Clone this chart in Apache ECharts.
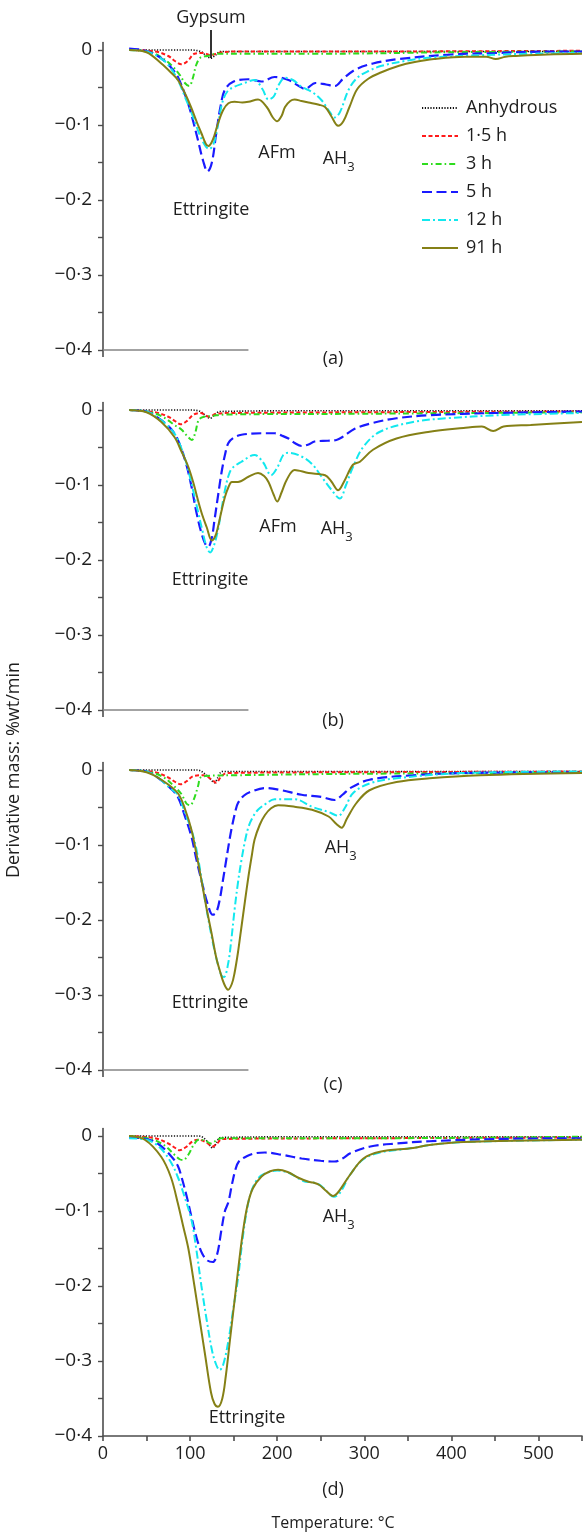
<!DOCTYPE html>
<html>
<head>
<meta charset="utf-8">
<script src="https://cdn.jsdelivr.net/npm/echarts@6/dist/echarts.min.js"></script>
<style>
html,body{margin:0;padding:0;background:#fff;}
#main{width:587px;height:1533px;}
</style>
</head>
<body>
<div id="main"></div>
<script>
// ---- series names ----
const SERIES_NAMES = ['Anhydrous', '1·5 h', '3 h', '5 h', '12 h', '91 h'];
const PANEL_LETTERS = ['(a)', '(b)', '(c)', '(d)'];

// ---- axis ticks / labels ----
const TEMP_TICKS = [0, 50, 100, 150, 200, 250, 300, 350, 400, 450, 500, 550];
const TEMP_LABELS = [0, 100, 200, 300, 400, 500];
const DERIV_TICKS = [-0.4, -0.35, -0.3, -0.25, -0.2, -0.15, -0.1, -0.05, 0];
const DERIV_LABELS = [-0.4, -0.3, -0.2, -0.1, 0];

// ---- panel (a) ----
const A_ANH = [[30,0],[100,0],[112,-0.002],[119,-0.008],[124,-0.011],[129,-0.007],[135,-0.002],[250,-0.002],[400,-0.002],[550,-0.002]];
const A_H1_5 = [[30,0],[60,-0.002],[75,-0.008],[83,-0.015],[90,-0.019],[97,-0.015],[105,-0.005],[115,-0.004],[124,-0.007],[132,-0.004],[150,-0.002],[300,-0.002],[550,-0.001]];
const A_H3 = [[30,0],[55,-0.003],[70,-0.012],[80,-0.022],[88,-0.033],[94,-0.044],[99,-0.048],[103,-0.038],[107,-0.02],[112,-0.01],[120,-0.008],[130,-0.005],[250,-0.005],[400,-0.003],[550,-0.002]];
const A_H5 = [[30,0.002],[45,0],[60,-0.006],[72,-0.016],[80,-0.026],[86,-0.036],[95,-0.062],[101,-0.084],[109,-0.12],[115,-0.148],[120,-0.162],[125,-0.15],[130,-0.111],[135,-0.075],[140,-0.053],[150,-0.042],[167,-0.039],[182,-0.042],[197,-0.036],[213,-0.04],[225,-0.048],[232,-0.052],[244,-0.044],[256,-0.046],[266,-0.048],[276,-0.038],[290,-0.026],[310,-0.018],[340,-0.012],[400,-0.006],[450,-0.004],[513,-0.002],[550,-0.002]];
const A_H12 = [[30,0],[50,-0.002],[65,-0.01],[75,-0.02],[86,-0.04],[95,-0.065],[102,-0.085],[110,-0.11],[117,-0.127],[122,-0.132],[127,-0.125],[132,-0.1],[137,-0.07],[143,-0.055],[151,-0.049],[160,-0.045],[174,-0.04],[183,-0.052],[190,-0.066],[196,-0.062],[202,-0.046],[209,-0.037],[218,-0.04],[228,-0.049],[240,-0.056],[251,-0.067],[260,-0.082],[266,-0.09],[272,-0.083],[282,-0.053],[292,-0.037],[305,-0.028],[320,-0.021],[350,-0.014],[377,-0.01],[455,-0.006],[550,-0.004]];
const A_H91 = [[30,0],[50,-0.003],[67,-0.018],[78,-0.03],[86,-0.04],[95,-0.06],[101,-0.076],[108,-0.097],[113,-0.111],[118,-0.125],[121,-0.128],[126,-0.12],[132,-0.098],[138,-0.08],[144,-0.071],[151,-0.069],[160,-0.07],[167,-0.069],[178,-0.066],[188,-0.076],[195,-0.09],[200,-0.095],[205,-0.088],[209,-0.076],[215,-0.068],[220,-0.066],[228,-0.068],[236,-0.07],[248,-0.073],[255,-0.076],[262,-0.088],[270,-0.101],[276,-0.095],[283,-0.076],[292,-0.052],[305,-0.038],[319,-0.03],[340,-0.021],[358,-0.016],[380,-0.012],[416,-0.009],[440,-0.009],[451,-0.012],[462,-0.009],[474,-0.008],[510,-0.006],[550,-0.005]];

// ---- panel (b) ----
const B_ANH = [[30,0],[100,0],[112,-0.002],[118,-0.008],[123,-0.011],[128,-0.007],[134,-0.002],[250,-0.001],[550,-0.001]];
const B_H1_5 = [[30,0],[60,-0.003],[75,-0.009],[83,-0.015],[89,-0.019],[96,-0.015],[104,-0.006],[112,-0.004],[122,-0.009],[130,-0.005],[150,-0.004],[300,-0.003],[550,-0.002]];
const B_H3 = [[30,0],[55,-0.003],[70,-0.01],[82,-0.02],[90,-0.026],[97,-0.035],[102,-0.04],[106,-0.03],[110,-0.013],[116,-0.009],[125,-0.008],[140,-0.006],[300,-0.005],[550,-0.003]];
const B_H5 = [[30,0],[50,-0.002],[65,-0.012],[78,-0.025],[86,-0.04],[95,-0.07],[101.6,-0.102],[107,-0.135],[113,-0.164],[118,-0.18],[121,-0.182],[125,-0.17],[128,-0.147],[132,-0.115],[136,-0.084],[140,-0.06],[144,-0.044],[150,-0.037],[159,-0.033],[182,-0.031],[197,-0.031],[205,-0.034],[213,-0.038],[220,-0.044],[228,-0.048],[236,-0.046],[243,-0.042],[258,-0.041],[268,-0.04],[275,-0.036],[289,-0.025],[307,-0.018],[337,-0.011],[375,-0.007],[450,-0.004],[550,-0.002]];
const B_H12 = [[30,0],[50,-0.002],[65,-0.012],[78,-0.025],[86,-0.04],[95,-0.068],[102,-0.1],[108,-0.13],[114,-0.16],[119,-0.183],[123,-0.19],[127,-0.182],[132,-0.16],[136,-0.133],[140,-0.107],[144,-0.088],[148,-0.078],[159,-0.069],[174,-0.06],[184,-0.07],[193,-0.087],[200,-0.077],[207,-0.06],[213,-0.057],[228,-0.062],[240,-0.072],[251,-0.089],[262,-0.106],[272,-0.118],[279,-0.1],[287,-0.076],[299,-0.049],[318,-0.029],[356,-0.016],[395,-0.011],[453,-0.007],[550,-0.004]];
const B_H91 = [[30,0],[50,-0.003],[67,-0.016],[82,-0.036],[90,-0.055],[98,-0.076],[104,-0.098],[109,-0.12],[114,-0.14],[119,-0.156],[125,-0.174],[129,-0.168],[132,-0.156],[136,-0.135],[140,-0.116],[144,-0.103],[148,-0.096],[155,-0.096],[167,-0.089],[178,-0.084],[185,-0.088],[190,-0.096],[196,-0.113],[200,-0.122],[205,-0.11],[211,-0.093],[220,-0.08],[236,-0.084],[255,-0.087],[262,-0.095],[270,-0.107],[277,-0.095],[287,-0.073],[295,-0.069],[310,-0.053],[337,-0.038],[375,-0.029],[414,-0.024],[435,-0.022],[448,-0.028],[460,-0.022],[491,-0.02],[550,-0.016]];

// ---- panel (c) ----
const C_ANH = [[30,0],[108,0],[118,-0.006],[124,-0.013],[128,-0.017],[132,-0.01],[137,-0.002],[250,-0.002],[550,-0.002]];
const C_H1_5 = [[30,0],[60,-0.003],[75,-0.01],[83,-0.016],[89,-0.019],[96,-0.015],[104,-0.008],[115,-0.007],[124,-0.012],[130,-0.017],[135,-0.01],[142,-0.004],[300,-0.003],[550,-0.002]];
const C_H3 = [[30,0],[55,-0.003],[70,-0.01],[82,-0.022],[90,-0.032],[96,-0.045],[100,-0.047],[104,-0.04],[109,-0.022],[112,-0.01],[118,-0.008],[150,-0.007],[300,-0.005],[550,-0.004]];
const C_H5 = [[30,0],[50,-0.002],[65,-0.012],[78,-0.025],[86,-0.036],[95,-0.065],[101.6,-0.089],[107,-0.118],[113,-0.147],[120,-0.178],[126,-0.193],[130,-0.19],[134,-0.173],[138,-0.145],[141.5,-0.12],[145,-0.095],[148,-0.076],[152,-0.055],[155,-0.044],[162,-0.034],[170,-0.029],[186,-0.024],[205,-0.027],[228,-0.033],[251,-0.036],[266,-0.04],[275,-0.033],[284,-0.024],[306,-0.013],[356,-0.007],[415,-0.004],[550,-0.003]];
const C_H12 = [[30,0],[50,-0.002],[65,-0.012],[78,-0.025],[86,-0.033],[95,-0.06],[101.6,-0.08],[108,-0.11],[117,-0.173],[124.7,-0.222],[131,-0.255],[136,-0.274],[139,-0.276],[143.7,-0.258],[147,-0.23],[151,-0.187],[155,-0.15],[159,-0.12],[163,-0.095],[167,-0.076],[172,-0.063],[178,-0.053],[187,-0.045],[197,-0.039],[220,-0.039],[240,-0.049],[259,-0.056],[270,-0.061],[278,-0.05],[287,-0.031],[306,-0.018],[337,-0.011],[414,-0.004],[550,-0.002]];
const C_H91 = [[30,0],[50,-0.003],[67,-0.013],[86,-0.031],[95,-0.055],[101.6,-0.08],[107,-0.11],[113,-0.147],[119,-0.185],[124.7,-0.218],[130,-0.25],[134,-0.267],[139,-0.285],[143.7,-0.293],[148,-0.285],[151,-0.271],[155,-0.243],[159,-0.209],[163,-0.175],[167,-0.142],[171,-0.113],[174,-0.093],[180,-0.073],[186,-0.06],[193,-0.051],[201,-0.047],[220,-0.049],[240,-0.053],[259,-0.062],[268,-0.072],[274,-0.077],[280,-0.065],[291,-0.044],[306,-0.027],[337,-0.016],[375,-0.011],[433,-0.007],[550,-0.004]];

// ---- panel (d) ----
const D_ANH = [[30,0],[110,0],[118,-0.005],[126,-0.016],[130,-0.01],[135,-0.002],[250,-0.001],[550,-0.001]];
const D_H1_5 = [[30,0],[60,-0.003],[75,-0.01],[83,-0.016],[88,-0.019],[95,-0.015],[103,-0.007],[109,-0.005],[118,-0.008],[126,-0.014],[131,-0.01],[137,-0.004],[300,-0.003],[550,-0.002]];
const D_H3 = [[30,0],[55,-0.004],[70,-0.012],[82,-0.025],[88,-0.031],[92,-0.032],[98,-0.025],[104,-0.012],[110,-0.005],[117,-0.006],[124,-0.01],[130,-0.006],[136,-0.003],[300,-0.003],[550,-0.001]];
const D_H5 = [[30,-0.002],[50,-0.004],[65,-0.012],[79,-0.028],[86,-0.04],[90,-0.054],[96,-0.08],[101.6,-0.108],[108,-0.138],[114,-0.157],[120,-0.166],[126,-0.168],[131,-0.158],[136,-0.125],[140,-0.1],[144,-0.088],[148,-0.065],[152,-0.045],[156,-0.034],[165,-0.027],[175,-0.023],[186,-0.022],[205,-0.025],[228,-0.03],[250,-0.033],[266,-0.034],[275,-0.03],[284,-0.023],[307,-0.014],[337,-0.01],[375,-0.007],[450,-0.004],[550,-0.003]];
const D_H12 = [[30,-0.003],[50,-0.005],[65,-0.015],[78,-0.035],[86,-0.055],[92,-0.075],[101.6,-0.112],[107,-0.15],[113,-0.2],[119,-0.245],[125,-0.285],[130,-0.305],[134,-0.312],[138,-0.305],[143.7,-0.275],[149,-0.235],[155,-0.19],[160,-0.14],[165,-0.1],[170,-0.075],[177,-0.058],[186,-0.05],[200,-0.046],[215,-0.05],[230,-0.06],[241,-0.062],[250,-0.066],[258,-0.075],[265,-0.081],[272,-0.076],[283.5,-0.052],[299,-0.031],[318,-0.022],[356,-0.016],[375,-0.012],[414,-0.008],[550,-0.005]];
const D_H91 = [[30,0],[48,-0.005],[67,-0.028],[78,-0.055],[86,-0.09],[92,-0.12],[98,-0.15],[105,-0.2],[111,-0.245],[117,-0.29],[124,-0.342],[128,-0.357],[132,-0.361],[137,-0.35],[141,-0.32],[146,-0.27],[151,-0.22],[156,-0.17],[161,-0.125],[166,-0.092],[172,-0.07],[182,-0.054],[192,-0.047],[201,-0.045],[212,-0.048],[225,-0.056],[236,-0.061],[241,-0.062],[248,-0.065],[256,-0.073],[264,-0.08],[270,-0.075],[283.5,-0.052],[299,-0.03],[318,-0.021],[356,-0.016],[375,-0.012],[414,-0.008],[550,-0.005]];

const PANELS = [
  [A_ANH, A_H1_5, A_H3, A_H5, A_H12, A_H91],
  [B_ANH, B_H1_5, B_H3, B_H5, B_H12, B_H91],
  [C_ANH, C_H1_5, C_H3, C_H5, C_H12, C_H91],
  [D_ANH, D_H1_5, D_H3, D_H5, D_H12, D_H91]
];

// ---- styles ----
const FONT = '"Open Sans", "Noto Sans", sans-serif';
const TEXT_COLOR = '#1e1e1e';
const AXIS_COLOR = '#4d4d4d';
const LINE_STYLES = [
  { color: '#111111', width: 1.6, type: [1.2, 1.6] },
  { color: '#ff1a1a', width: 2, type: [4, 2.5] },
  { color: '#2edc1e', width: 2, type: [6, 3, 1.6, 3] },
  { color: '#1a1aff', width: 2.2, type: [10, 4.5] },
  { color: '#12e8ee', width: 2, type: [8, 3, 2, 3] },
  { color: '#858016', width: 2, type: 'solid' }
];
const PANEL_ZERO_Y = [50, 410, 770, 1136];   // pixel of y = 0 in each panel
const PX_PER_UNIT = 750;                      // 0.1 -> 75 px
const Y_MAX = 0.01, Y_MIN = -0.4;

const fmtY = v => Math.abs(v) < 1e-9 ? '0' : '\u2212' + Math.abs(v).toFixed(1).replace('.', '\u00b7');

const grids = [], xAxes = [], yAxes = [], series = [];
PANELS.forEach((panel, p) => {
  const top = PANEL_ZERO_Y[p] - Y_MAX * PX_PER_UNIT;
  grids.push({ left: 103, width: 479, top: top, height: (Y_MAX - Y_MIN) * PX_PER_UNIT, outerBoundsMode: 'none', containLabel: false });
  const isLast = p === 3;
  xAxes.push({
    type: 'value', gridIndex: p, min: 0, max: 550,
    axisLine: { show: isLast, onZero: false, lineStyle: { color: AXIS_COLOR, width: 1.6 } },
    axisTick: { show: true, customValues: isLast ? TEMP_TICKS : [0], length: isLast ? 5 : 7, lineStyle: { color: AXIS_COLOR, width: 1.6 } },
    axisLabel: { show: isLast, customValues: TEMP_LABELS, fontSize: 18, fontFamily: FONT, color: TEXT_COLOR, margin: 9 },
    splitLine: { show: false }
  });
  yAxes.push({
    type: 'value', gridIndex: p, min: Y_MIN, max: Y_MAX,
    axisLine: { show: true, onZero: false, lineStyle: { color: AXIS_COLOR, width: 1.6 } },
    axisTick: { show: true, customValues: DERIV_TICKS, length: 5, lineStyle: { color: AXIS_COLOR, width: 1.4 } },
    axisLabel: { customValues: DERIV_LABELS, formatter: fmtY, fontSize: 19, fontFamily: FONT, color: TEXT_COLOR, margin: 11 },
    splitLine: { show: false }
  });
  panel.forEach((data, s) => {
    const ser = {
      type: 'line', name: SERIES_NAMES[s], xAxisIndex: p, yAxisIndex: p,
      data: data, symbol: 'none', showSymbol: false, smooth: 0.35,
      lineStyle: LINE_STYLES[s], itemStyle: { color: LINE_STYLES[s].color },
      z: 2 + s, silent: true
    };
    if (s === 0 && !isLast) {
      ser.markLine = {
        silent: true, symbol: ['none', 'none'], label: { show: false }, animation: false,
        lineStyle: { type: 'solid', color: '#858585', width: 1.6 },
        emphasis: { disabled: true },
        data: [[{ coord: [0, Y_MIN] }, { coord: [167, Y_MIN] }]]
      };
    }
    series.push(ser);
  });
});

const txt = (x, y, t, size, extra) => Object.assign({
  type: 'text', x: x, y: y,
  style: { text: t, font: (size || 18) + 'px ' + FONT, fill: TEXT_COLOR, align: 'center', verticalAlign: 'middle' }
}, extra || {});

const sub = (x, y) => [txt(x, y, 'AH'), txt(x + 16, y + 8, '3', 13)];

const graphics = [
  txt(211, 18, 'Gypsum'),
  { type: 'line', shape: { x1: 211, y1: 30, x2: 211, y2: 58 }, style: { stroke: '#333', lineWidth: 2 } },
  txt(211, 210, 'Ettringite'),
  txt(277, 153, 'AFm'),
  ...sub(335, 159),
  txt(210, 580, 'Ettringite'),
  txt(278, 527, 'AFm'),
  ...sub(333, 529),
  txt(210, 1003, 'Ettringite'),
  ...sub(337, 848),
  txt(247, 1418, 'Ettringite'),
  ...sub(335, 1217),
  txt(333, 359, PANEL_LETTERS[0]),
  txt(333, 721, PANEL_LETTERS[1]),
  txt(333, 1085, PANEL_LETTERS[2]),
  txt(333, 1490, PANEL_LETTERS[3]),
  txt(333, 1523, 'Temperature: °C', 16),
  txt(14, 770, 'Derivative mass: %wt/min', 18, { rotation: Math.PI / 2 })
];

const chart = echarts.init(document.getElementById('main'), null, { renderer: 'canvas' });
chart.setOption({
  animation: false,
  backgroundColor: '#ffffff',
  legend: {
    data: SERIES_NAMES, orient: 'vertical', left: 421, top: 99, padding: 0,
    itemWidth: 36, itemHeight: 14, itemGap: 10, selectedMode: false,
    itemStyle: { opacity: 0 },
    textStyle: { fontSize: 18, fontFamily: FONT, color: TEXT_COLOR, lineHeight: 18, padding: [0, 0, 0, 3] }
  },
  grid: grids, xAxis: xAxes, yAxis: yAxes, series: series,
  graphic: { elements: graphics }
});
</script>
</body>
</html>
